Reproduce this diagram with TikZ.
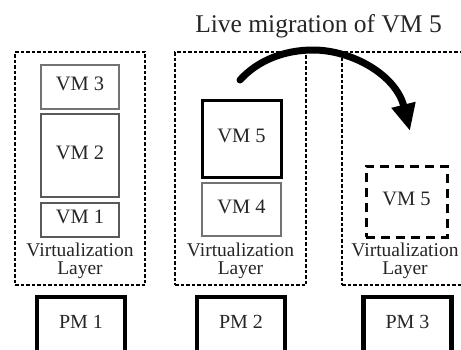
\documentclass[tikz,border=0pt]{standalone}
\usepackage{fontspec}
\setmainfont{Liberation Serif}
\usetikzlibrary{arrows.meta}
\begin{document}
\begin{tikzpicture}[x=1pt,y=-1pt,
  host/.style={draw, line width=2.2pt, dash pattern=on 3.5pt off 2pt, inner sep=0pt},
  vmbox/.style={draw=black!55, line width=1.3pt, inner sep=0pt, text=black!85,
    text depth=6pt, font=\fontsize{20.5}{22}\selectfont},
  activevm/.style={vmbox, draw=black, line width=3pt},
  ghostvm/.style={vmbox, draw=black, line width=3pt, dash pattern=on 9pt off 6pt},
  pmbox/.style={draw, line width=4.5pt, inner ysep=0pt, text height=31pt, text depth=60pt,
    minimum width=88pt, anchor=base, text=black!85, font=\fontsize{20}{22}\selectfont},
  layer/.style={align=center, inner sep=0pt, text=black!85, font=\fontsize{19.5}{18.5}\selectfont},
  migr/.style={line width=7pt, line cap=round, -{Triangle[length=27pt,width=23pt]}}
]
\useasboundingbox (0,0) rectangle (461,349);
\clip (0,0) rectangle (461,349);

% title
\node[anchor=base, inner sep=0pt, text=black!85, font=\fontsize{25.5}{27}\selectfont]
  (title) at (318.5,32) {Live migration of VM 5};

% hosts (dotted frames)
\node[host, minimum width=130pt, minimum height=233pt] (host1) at (80,168.5) {};
\node[host, minimum width=131pt, minimum height=233pt] (host2) at (240.5,168.5) {};
\node[host, minimum width=131pt, minimum height=233pt] (host3) at (407.5,168.5) {};

% virtual machines
\node[vmbox, minimum width=78pt, minimum height=44pt] (vm3) at (80,87) {VM 3};
\node[vmbox, draw=black!65, minimum width=78pt, minimum height=83pt] (vm2) at (80,155.5) {VM 2};
\node[vmbox, draw=black!65, minimum width=78pt, minimum height=34pt] (vm1) at (80,220) {VM 1};
\node[activevm, minimum width=79pt, minimum height=77pt] (vm5) at (241.5,138.5) {VM 5};
\node[vmbox, minimum width=79pt, minimum height=53pt] (vm4) at (241.5,209.5) {VM 4};
\node[ghostvm, minimum width=81pt, minimum height=71pt] (vm5new) at (406.5,201.5) {VM 5};

% virtualization layers
\node[layer] (layer1) at (80,261) {Virtualization\\Layer};
\node[layer] (layer2) at (240.5,261) {Virtualization\\Layer};
\node[layer] (layer3) at (405,261) {Virtualization\\Layer};

% physical machines
\node[pmbox] (pm1) at (81,328) {PM 1};
\node[pmbox] (pm2) at (241,328) {PM 2};
\node[pmbox] (pm3) at (407.5,328) {PM 3};

% migration arrow
\coordinate (mfrom) at (240,80);
\coordinate (mtop) at (313,50);
\coordinate (mto) at (410,131);
\draw[migr] (mfrom) .. controls (258,60) and (285,50) .. (mtop)
  .. controls (352,50) and (396,75) .. (mto);
\end{tikzpicture}
\end{document}
